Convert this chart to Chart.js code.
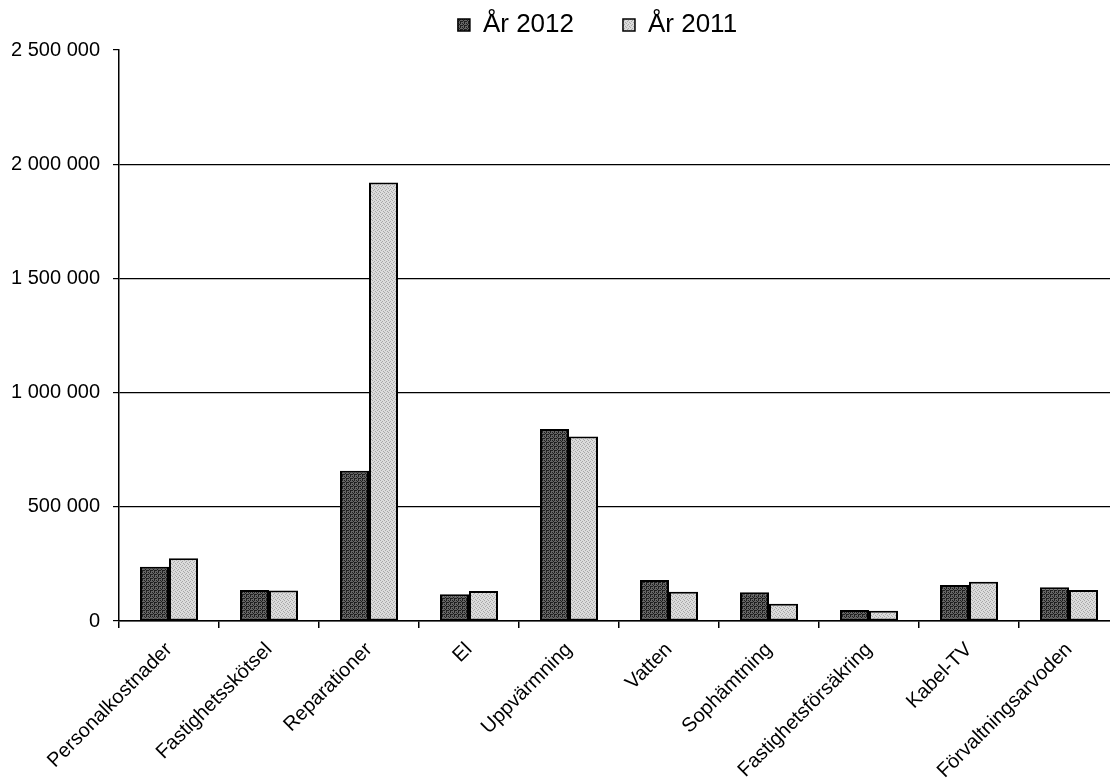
<!DOCTYPE html>
<html>
<head>
<meta charset="utf-8">
<script src="https://cdn.jsdelivr.net/npm/chart.js@4/dist/chart.umd.min.js"></script>
<style>
  html, body { margin: 0; padding: 0; background: #fff; overflow: hidden; }
  #wrap { width: 1110px; height: 778px; overflow: hidden; }
</style>
</head>
<body>
<div id="wrap"><canvas id="c" width="1119" height="778"></canvas></div>
<script>
const categories = ['Personalkostnader','Fastighetsskötsel','Reparationer','El','Uppvärmning','Vatten','Sophämtning','Fastighetsförsäkring','Kabel-TV','Förvaltningsarvoden'];
const seriesNames = ['År 2012', 'År 2011'];
const values2012 = [237000, 136000, 658000, 117000, 841000, 180000, 126000, 48000, 158000, 148000];
const values2011 = [275000, 133000, 1920000, 131000, 808000, 128000, 75000, 45000, 172000, 136000];
const yTicks = [0, 500000, 1000000, 1500000, 2000000, 2500000];

function fmt(v) { return String(v).replace(/\B(?=(\d{3})+(?!\d))/g, ' '); }

function makePattern(base, dot, matrix) {
  const c = document.createElement('canvas');
  c.width = 4; c.height = 4;
  const g = c.getContext('2d');
  g.fillStyle = base; g.fillRect(0, 0, 4, 4);
  g.fillStyle = dot;
  for (let y = 0; y < 4; y++) for (let x = 0; x < 4; x++) if (matrix[y][x]) g.fillRect(x, y, 1, 1);
  return g.createPattern(c, 'repeat');
}
const darkFill = makePattern('#666666', '#1e1e1e', [[1,0,1,0],[0,1,0,0],[1,0,1,1],[0,0,1,0]]);
const lightFill = makePattern('#dcdcdc', '#a8a8a8', [[1,0,0,0],[0,0,1,0],[0,1,0,0],[0,0,0,1]]);

const FONT = "'Liberation Sans', Arial, sans-serif";

const legendFix = {
  id: 'legendFix',
  beforeInit(chart) {
    const lg = chart.legend;
    const origFit = lg.fit;
    lg.fit = function () {
      origFit.call(this);
      this.height = 50;
    };
    const origDraw = lg._draw;
    lg._draw = function () {
      this.ctx.save();
      this.ctx.translate(38, -37);
      origDraw.call(this);
      this.ctx.restore();
    };
  }
};

new Chart(document.getElementById('c'), {
  type: 'bar',
  data: {
    labels: categories,
    datasets: [
      { label: seriesNames[0], data: values2012, backgroundColor: darkFill, borderColor: '#000', borderWidth: 2, borderSkipped: false },
      { label: seriesNames[1], data: values2011, backgroundColor: lightFill, borderColor: '#000', borderWidth: 2, borderSkipped: false }
    ]
  },
  plugins: [legendFix],
  options: {
    responsive: false,
    animation: false,
    events: [],
    layout: { padding: 0 },
    datasets: { bar: { categoryPercentage: 0.58, barPercentage: 1.0 } },
    plugins: {
      tooltip: { enabled: false },
      legend: {
        display: true,
        position: 'top',
        labels: {
          color: '#000',
          font: { family: FONT, size: 26 },
          boxWidth: 12,
          boxHeight: 12,
          padding: 49,
          generateLabels(chart) {
            return chart.data.datasets.map((ds, i) => ({
              text: ds.label,
              fillStyle: ds.backgroundColor,
              strokeStyle: '#000',
              lineWidth: 1.5,
              hidden: false,
              datasetIndex: i,
              fontColor: '#000'
            }));
          }
        }
      }
    },
    scales: {
      x: {
        grid: { display: true, offset: true, drawOnChartArea: false, drawTicks: true, tickLength: 7, color: '#000', lineWidth: 1.5 },
        border: { display: true, color: '#000', width: 1.5 },
        ticks: {
          autoSkip: false, maxRotation: 45, minRotation: 45, color: '#000', padding: 10,
          font: { family: FONT, size: 20 }
        },
        afterFit(scale) { scale.height = 157; }
      },
      y: {
        min: 0, max: 2500000,
        afterBuildTicks(scale) { scale.ticks = yTicks.map(v => ({ value: v })); },
        grid: {
          color: ctx => (ctx.tick && ctx.tick.value === 2500000) ? 'rgba(0,0,0,0)' : '#000',
          tickColor: '#000',
          lineWidth: 1.2,
          drawTicks: true,
          tickLength: 6
        },
        border: { display: true, color: '#000', width: 1.5 },
        ticks: {
          color: '#000', padding: 13,
          font: { family: FONT, size: 20 },
          callback: v => fmt(v)
        },
        afterFit(scale) { scale.width = 119; }
      }
    }
  },
});
</script>
</body>
</html>
